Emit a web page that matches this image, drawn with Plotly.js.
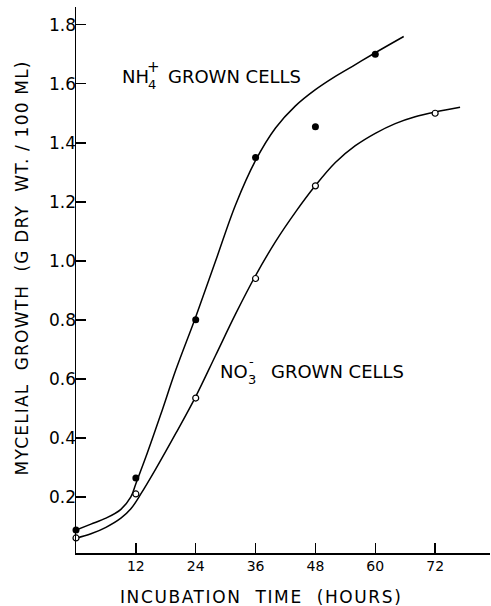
<!DOCTYPE html>
<html><head><meta charset="utf-8">
<script src="https://cdn.plot.ly/plotly-3.0.1.min.js"></script>
<style>body{margin:0;background:#fff}#c{width:491px;height:606px}</style>
</head><body><div id="c"></div>
<script>
// measured points
const hours = [0, 12, 24, 36, 48, 60, 72];
const nh4Hours = [0, 12, 24, 36, 48, 60];
const nh4Growth = [0.088, 0.264, 0.80, 1.35, 1.454, 1.70];
const no3Hours = [0, 12, 24, 36, 48, 72];
const no3Growth = [0.061, 0.21, 0.535, 0.94, 1.254, 1.50];
// fitted curves
const nh4CurveX = [0, 3, 6, 9, 11, 12, 14, 17, 20, 24, 28, 32, 36, 40, 44, 48, 52, 56, 60, 65.7];
const nh4CurveY = [0.088, 0.108, 0.128, 0.158, 0.20, 0.245, 0.335, 0.48, 0.63, 0.81, 1.0, 1.19, 1.34, 1.45, 1.525, 1.58, 1.625, 1.665, 1.705, 1.76];
const no3CurveX = [0, 3, 6, 9, 11, 13, 16, 20, 24, 28, 32, 36, 40, 44, 48, 52, 56, 60, 64, 68, 72, 77];
const no3CurveY = [0.06, 0.075, 0.097, 0.128, 0.16, 0.21, 0.295, 0.415, 0.54, 0.68, 0.82, 0.95, 1.065, 1.165, 1.255, 1.333, 1.39, 1.432, 1.465, 1.488, 1.504, 1.52];
const yTicks = [0.2, 0.4, 0.6, 0.8, 1.0, 1.2, 1.4, 1.6, 1.8];

const FONT = 'DejaVu Sans, sans-serif';
const curveLine = {color: '#000', width: 1.5, shape: 'spline', smoothing: 1};
const traces = [
  {x: nh4CurveX, y: nh4CurveY, mode: 'lines', line: curveLine, hoverinfo: 'skip', cliponaxis: false},
  {x: no3CurveX, y: no3CurveY, mode: 'lines', line: curveLine, hoverinfo: 'skip', cliponaxis: false},
  {x: nh4Hours, y: nh4Growth, mode: 'markers', marker: {color: '#000', size: 7}, cliponaxis: false},
  {x: no3Hours, y: no3Growth, mode: 'markers', marker: {color: '#fff', size: 6, line: {color: '#000', width: 1.2}}, cliponaxis: false}
];
const lab = (x, y, text, size, extra) => Object.assign({x, y, xref: 'x', yref: 'y', xanchor: 'left', yanchor: 'middle', showarrow: false, text, font: {size, family: FONT}}, extra || {});
const layout = {
  width: 491, height: 606, showlegend: false,
  paper_bgcolor: '#fff', plot_bgcolor: '#fff',
  margin: {l: 76, r: 1, t: 7, b: 53},
  font: {family: FONT, color: '#000'},
  xaxis: {
    range: [0, 83], tickvals: hours.slice(1), ticktext: hours.slice(1).map(String),
    ticks: 'inside', ticklen: 10, tickwidth: 1.5, tickcolor: '#000',
    showline: true, linecolor: '#000', linewidth: 1.5, showgrid: false, zeroline: false,
    tickfont: {size: 14, family: FONT}
  },
  yaxis: {
    range: [0.01, 1.86], tickvals: yTicks, tickformat: '.1f',
    ticks: 'inside', ticklen: 10, tickwidth: 1.5, tickcolor: '#000', ticklabelstandoff: -5,
    showline: true, linecolor: '#000', linewidth: 1.5, showgrid: false, zeroline: false,
    tickfont: {size: 17, family: FONT}
  },
  annotations: [
    lab(8.8, 1.624, 'NH', 18),
    lab(8.8, 1.624, '4', 13, {xshift: 26, yshift: -8}),
    lab(8.8, 1.624, '+', 15, {xshift: 25, yshift: 10}),
    lab(18.0, 1.624, 'GROWN CELLS', 18),
    lab(28.5, 0.624, 'NO', 18),
    lab(28.5, 0.624, '3', 13, {xshift: 28, yshift: -8}),
    lab(28.5, 0.624, '-', 13, {xshift: 29, yshift: 10}),
    lab(38.6, 0.624, 'GROWN CELLS', 18),
    {x: 261, y: 597, xref: 'paper', yref: 'paper', showarrow: false, text: 'INCUBATION  TIME  (HOURS)',
     font: {size: 17, family: FONT}, xanchor: 'center', yanchor: 'middle'},
    {x: 22, y: 268, showarrow: false, text: 'MYCELIAL  GROWTH  (G DRY  WT. / 100 ML)', textangle: -90,
     font: {size: 17, family: FONT}, xanchor: 'center', yanchor: 'middle'}
  ]
};
// convert the two title positions from page pixels to paper fractions
const pw = 491 - 76 - 1, ph = 606 - 7 - 53;
layout.annotations[8].x = (261 - 76) / pw; layout.annotations[8].y = (606 - 53 - 597) / ph;
Object.assign(layout.annotations[9], {xref: 'paper', yref: 'paper', x: (22 - 76) / pw, y: (606 - 53 - 268) / ph});
Plotly.newPlot('c', traces, layout, {staticPlot: true}).then(() => {
  document.querySelectorAll('.annotation-text').forEach(el => {
    const t = el.textContent;
    if (t.startsWith('INCUBATION')) el.style.letterSpacing = '1.6px';
    if (t.startsWith('MYCELIAL')) el.style.letterSpacing = '1.2px';
  });
});
</script></body></html>
